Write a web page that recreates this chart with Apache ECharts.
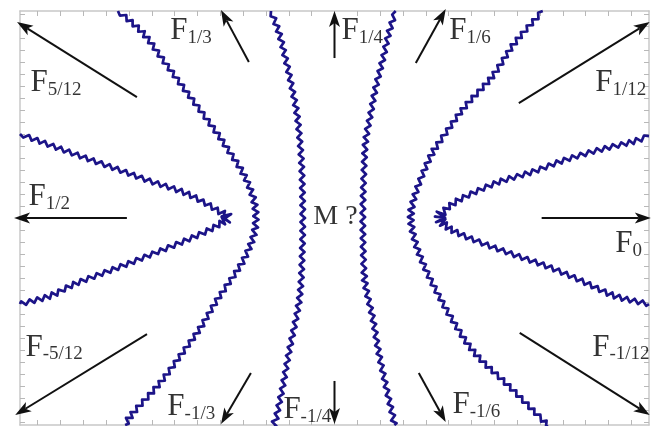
<!DOCTYPE html>
<html>
<head>
<meta charset="utf-8">
<script src="https://cdn.jsdelivr.net/npm/echarts@6/dist/echarts.min.js"></script>
<style>
html, body { margin: 0; padding: 0; background: #fff; }
#chart { width: 652px; height: 426px; }
</style>
</head>
<body>
<div id="chart"></div>
<script>
// tick positions on the frame (one unit per tick)
const xTicks = [-13, -12, -11, -10, -9, -8, -7, -6, -5, -4, -3, -2, -1, 0, 1, 2, 3, 4, 5, 6, 7, 8, 9, 10, 11, 12, 13];
const yTicks = [-17, -16, -15, -14, -13, -12, -11, -10, -9, -8, -7, -6, -5, -4, -3, -2, -1, 0, 1, 2, 3, 4, 5, 6, 7, 8, 9, 10, 11, 12, 13, 14, 15, 16, 17];

// contour curves (left to right)
const curveA = [[-13.77, 7.0], [-12.46, 6.08], [-11.01, 5.08], [-9.53, 4.08], [-8.08, 3.08], [-6.64, 2.17], [-5.67, 1.25], [-5.02, 0.5], [-4.72, 0],
    [-5.32, -0.83], [-6.46, -1.83], [-8.08, -3.08], [-9.53, -4.17], [-11.28, -5.42], [-12.46, -6.5], [-13.77, -7.17]];
const curveD = [[-9.48, 17.25], [-8.39, 15.42], [-7.51, 13.17], [-6.64, 10.92], [-5.89, 9.0], [-5.15, 7.08], [-4.7, 5.8], [-4.01, 3.75], [-3.57, 1.75], [-3.44, 0],
    [-3.57, -1.65], [-4.01, -3.6], [-4.7, -5.6], [-5.2, -7.0], [-5.89, -9.2], [-6.76, -11.5], [-7.64, -13.75], [-8.82, -16.25], [-9.17, -17.25]];
const curveB = [[-2.78, 17.25], [-2.43, 15.42], [-2.13, 13.17], [-1.87, 10.92], [-1.65, 8.75], [-1.52, 6.5], [-1.43, 4.0], [-1.39, 0],
    [-1.43, -4.0], [-1.52, -6.5], [-1.69, -8.42], [-2.0, -11.25], [-2.26, -14.0], [-2.57, -16.75], [-2.65, -17.25]];
const curveC = [[2.68, 17.25], [2.38, 15.42], [2.11, 13.17], [1.81, 10.92], [1.59, 8.75], [1.37, 6.5], [1.29, 4.0], [1.24, 0],
    [1.28, -4.0], [1.36, -5.67], [1.68, -8.42], [1.94, -11.25], [2.25, -14.0], [2.55, -16.5], [2.62, -17.25]];
const curveE = [[9.12, 17.25], [7.89, 14.58], [6.89, 11.75], [5.70, 9.25], [4.75, 6.75], [4.25, 5.3], [3.72, 3.0], [3.42, 1.2], [3.34, 0],
    [3.45, -1.4], [3.75, -3.2], [4.3, -5.5], [5.14, -8.42], [6.14, -11.25], [7.63, -14.0], [9.07, -16.75], [9.34, -17.25]];
const curveF = [[13.77, 6.83], [13.01, 6.33], [11.57, 5.67], [10.08, 4.83], [8.64, 3.83], [7.19, 3.0], [5.70, 1.75], [5.0, 0.92], [4.62, 0],
    [5.14, -1.0], [6.45, -2.08], [7.89, -3.08], [9.38, -4.08], [10.83, -5.25], [12.27, -6.5], [13.77, -7.17]];

// force arrows: subscript, tail, head
const forceNames = ['5/12', '1/3', '1/4', '1/6', '1/12', '1/2', '0', '-5/12', '-1/3', '-1/4', '-1/6', '-1/12'];
const arrowFrom = [[-8.65, 10.08], [-3.75, 13.0], [0, 13.33], [3.56, 12.92], [8.07, 9.58], [-9.09, 0], [9.07, 0],
    [-8.21, -9.67], [-3.66, -12.92], [0, -13.58], [3.69, -12.92], [8.11, -9.58]];
const arrowTo = [[-13.9, 16.33], [-4.97, 17.33], [0, 17.25], [4.87, 17.42], [13.8, 16.33], [-14.03, 0], [13.85, 0],
    [-13.98, -16.42], [-4.97, -17.17], [0, -17.17], [4.87, -17.0], [13.8, -16.42]];
const labelAt = [[-13.33, 11.29], [-7.21, 15.58], [0.28, 15.58], [5.0, 15.58], [11.39, 11.29], [-13.42, 1.75], [12.27, -2.17],
    [-13.55, -10.79], [-7.34, -15.75], [-2.26, -16.0], [5.14, -15.58], [11.26, -10.79]];
const centerText = 'M ?';
const centerAt = [-0.95, 0.08];

const curveColor = '#1c1488';
const ink = '#000';
const serif = '"Liberation Serif", "DejaVu Serif", serif';

// sample a smooth path through the pixel points and give it a fine zigzag,
// tighter and stronger where the path bends hard (as in the original contour)
function wavyPoints(pts, half, amp) {
    const dense = [];
    for (let i = 0; i < pts.length - 1; i++) {
        const p0 = pts[i > 0 ? i - 1 : i], p1 = pts[i], p2 = pts[i + 1], p3 = pts[i + 2 < pts.length ? i + 2 : i + 1];
        const n = Math.max(8, Math.ceil(2 * Math.hypot(p2[0] - p1[0], p2[1] - p1[1])));
        for (let k = 0; k < n; k++) {
            const t = k / n, t2 = t * t, t3 = t2 * t;
            const f = (a, b, c, d) => 0.5 * (2 * b + (-a + c) * t + (2 * a - 5 * b + 4 * c - d) * t2 + (-a + 3 * b - 3 * c + d) * t3);
            dense.push([f(p0[0], p1[0], p2[0], p3[0]), f(p0[1], p1[1], p2[1], p3[1])]);
        }
    }
    dense.push(pts[pts.length - 1]);
    const bend = i => {
        const w = 12;
        const a = dense[Math.max(0, i - w)], b = dense[i], c = dense[Math.min(dense.length - 1, i + w)];
        const v1 = Math.atan2(b[1] - a[1], b[0] - a[0]), v2 = Math.atan2(c[1] - b[1], c[0] - b[0]);
        let d = Math.abs(v2 - v1);
        if (d > Math.PI) d = 2 * Math.PI - d;
        const s = Math.hypot(c[0] - a[0], c[1] - a[1]) || 1;
        return d / s;
    };
    const out = [dense[0]];
    let acc = 0, next = half, side = 1;
    for (let i = 1; i < dense.length; i++) {
        const dx = dense[i][0] - dense[i - 1][0], dy = dense[i][1] - dense[i - 1][1];
        const d = Math.hypot(dx, dy);
        acc += d;
        if (acc >= next && d > 0) {
            const k = bend(i);
            const A = Math.min(amp * 2.3, amp + 60 * k);
            out.push([dense[i][0] - dy / d * A * side, dense[i][1] + dx / d * A * side]);
            side = -side;
            next += Math.max(1.5, half / (1 + 25 * k));
        }
    }
    out.push(dense[dense.length - 1]);
    return out;
}

const curveSeries = [curveA, curveB, curveC, curveD, curveE, curveF].map(c => ({
    type: 'custom',
    coordinateSystem: 'cartesian2d',
    silent: true,
    clip: false,
    encode: { x: 0, y: 1 },
    data: c,
    renderItem: (params, api) => {
        if (params.dataIndex !== 0) return null;
        const px = c.map(p => api.coord(p));
        return {
            type: 'polyline',
            shape: { points: wavyPoints(px, 4.3, 2.2) },
            style: { stroke: curveColor, lineWidth: 2.7, fill: 'none', lineJoin: 'round' }
        };
    }
}));

const arrowSeries = {
    type: 'custom',
    coordinateSystem: 'cartesian2d',
    silent: true,
    clip: false,
    encode: { x: [0, 2], y: [1, 3] },
    data: arrowFrom.map((p, i) => [p[0], p[1], arrowTo[i][0], arrowTo[i][1]]),
    renderItem: (params, api) => {
        const a = api.coord([api.value(0), api.value(1)]);
        const b = api.coord([api.value(2), api.value(3)]);
        const dx = b[0] - a[0], dy = b[1] - a[1];
        const len = Math.hypot(dx, dy);
        const ux = dx / len, uy = dy / len, nx = -uy, ny = ux;
        const L = 16, W = 5.5;
        const bx = b[0] - ux * L, by = b[1] - uy * L;
        return {
            type: 'group',
            children: [
                { type: 'line', shape: { x1: a[0], y1: a[1], x2: bx + ux * 4, y2: by + uy * 4 }, style: { stroke: '#111', lineWidth: 2 } },
                { type: 'polygon', shape: { points: [[b[0], b[1]], [bx + nx * W, by + ny * W], [bx + ux * 4, by + uy * 4], [bx - nx * W, by - ny * W]] }, style: { fill: '#111' } }
            ]
        };
    }
};

const labelSeries = {
    type: 'scatter',
    silent: true,
    symbolSize: 1,
    itemStyle: { color: 'transparent' },
    data: labelAt.map((p, i) => ({ value: p, name: forceNames[i] })).concat([{ value: centerAt, name: centerText, center: true }]),
    label: {
        show: true,
        position: 'right',
        distance: 0,
        align: 'left',
        verticalAlign: 'middle',
        formatter: p => p.data.center ? '{m|' + p.name + '}' : '{f|F}{s|' + p.name + '}',
        rich: {
            f: { fontFamily: serif, fontSize: 31, color: ink },
            s: { fontFamily: serif, fontSize: 19, color: ink, padding: [14, 0, 0, 0] },
            m: { fontFamily: serif, fontSize: 28, color: ink }
        }
    }
};

const frameLine = { show: true, onZero: false, lineStyle: { color: '#c8c8c8', width: 1.5 } };
const makeX = pos => ({
    type: 'value', position: pos, min: -13.77, max: 13.77,
    axisLine: frameLine,
    axisTick: { show: true, inside: true, length: 5, customValues: xTicks, lineStyle: { color: '#b8b8b8' } },
    axisLabel: { show: false },
    splitLine: { show: false }
});
const makeY = pos => ({
    type: 'value', position: pos, min: -17.25, max: 17.25,
    axisLine: frameLine,
    axisTick: { show: true, inside: true, length: 5, customValues: yTicks, lineStyle: { color: '#b8b8b8' } },
    axisLabel: { show: false },
    splitLine: { show: false }
});

const myChart = echarts.init(document.getElementById('chart'));
myChart.setOption({
    backgroundColor: '#fff',
    animation: false,
    grid: { left: 20, right: 3, top: 11, bottom: 1 },
    xAxis: [makeX('bottom'), makeX('top')],
    yAxis: [makeY('left'), makeY('right')],
    series: curveSeries.concat([arrowSeries, labelSeries])
});
</script>
</body>
</html>
